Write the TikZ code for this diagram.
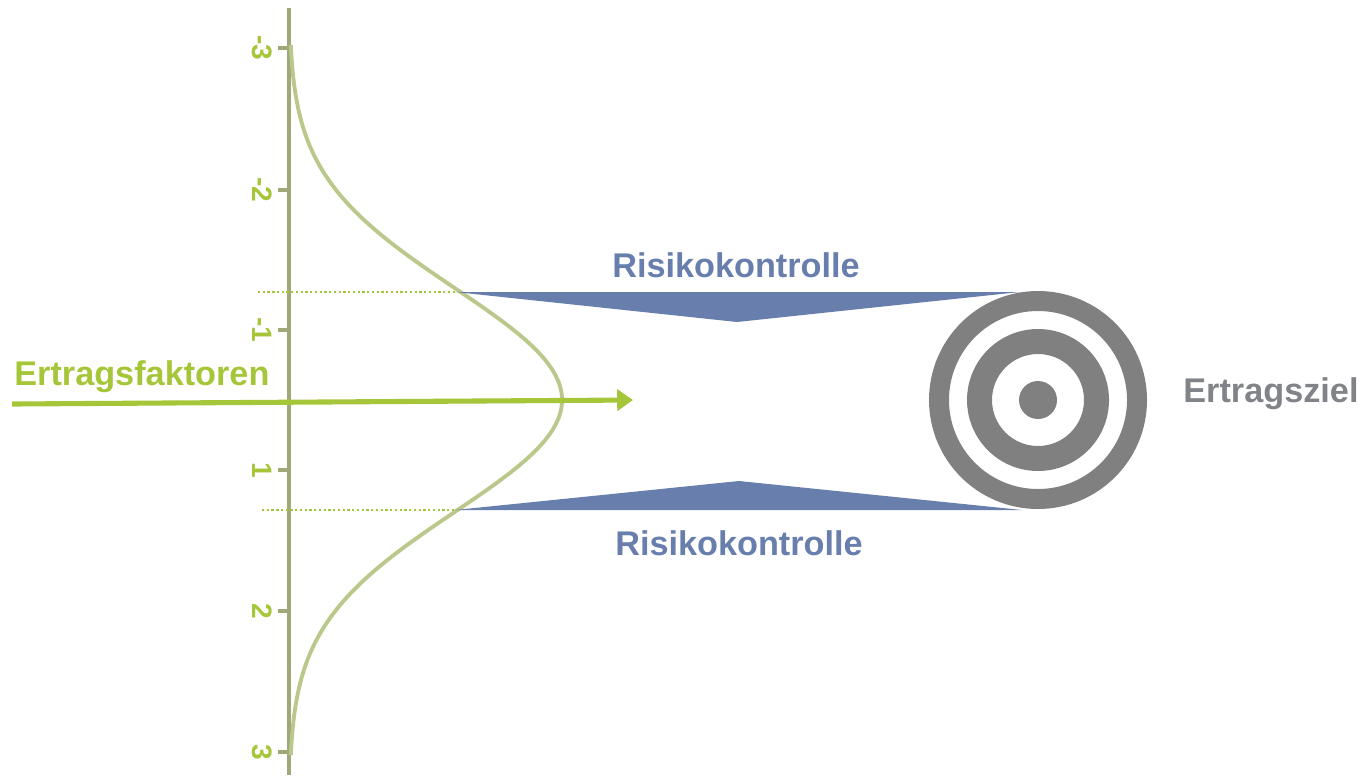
\documentclass[tikz,border=0pt]{standalone}
\usepackage{fontspec}
\setmainfont{Liberation Sans}
\usetikzlibrary{positioning,arrows.meta}
\definecolor{ertrag}{RGB}{166,198,58}
\definecolor{axisol}{RGB}{160,168,122}
\definecolor{curveol}{RGB}{186,200,140}
\definecolor{riskblue}{RGB}{104,127,174}
\definecolor{zielgray}{RGB}{128,128,128}
\definecolor{zieltext}{RGB}{128,131,136}
\tikzset{
  big/.style={font=\bfseries\fontsize{19.5}{23}\selectfont, inner sep=0pt},
  ticklbl/.style={font=\bfseries\fontsize{16}{18}\selectfont, text=ertrag, inner sep=0pt, rotate=-90},
  ax/.style={draw=axisol, line width=1.8pt},
  bell/.style={draw=curveol, line width=2.2pt},
  guide/.style={draw=ertrag, line width=1.3pt, dash pattern=on 1.3pt off 1.4pt},
  flow/.style={draw=ertrag, line width=2.9pt, -{Triangle[length=9pt,width=12pt]}},
  wedge/.style={fill=riskblue},
}
\begin{document}
\begin{tikzpicture}[x=0.02cm, y=-0.02cm]
\useasboundingbox (0,0) rectangle (1361,775);
% axis with ticks
\coordinate (axtop) at (289,8);
\coordinate (axbot) at (289,775);
\draw[ax] (axtop) -- (axbot);
\foreach \v/\ypos in {-3/48,-2/190,-1/330,1/470,2/611,3/752} {
  \coordinate (tk\ypos) at (278,\ypos);
  \draw[ax] (tk\ypos) -- (289,\ypos);
  \node[ticklbl] (t\ypos) at (262,\ypos) {\v};
}
% bell curve
\draw[bell] plot[domain=-355:355, samples=121, smooth] ({289+273*exp(-((\x/112)^2)/2)}, {400+\x});
% risk wedges
\coordinate (tl) at (455,292); \coordinate (tr) at (1020,292); \coordinate (tm) at (737,322);
\coordinate (bl) at (455,510); \coordinate (br) at (1022,510); \coordinate (bm) at (739,481);
\coordinate (dtl) at (258,292); \coordinate (dbl) at (262,510);
\draw[guide] (dtl) -- (tl);
\draw[guide] (dbl) -- (bl);
\fill[wedge] (tl) -- (tr) -- (tm) -- cycle;
\fill[wedge] (bl) -- (br) -- (bm) -- cycle;
\node[big, text=riskblue] (rktop) at (736,265) {Risikokontrolle};
\node[big, text=riskblue] (rkbot) at (739,543) {Risikokontrolle};
% target
\coordinate (tgt) at (1038,400);
\fill[zielgray, even odd rule] (tgt) circle (109) circle (89) circle (71) circle (46) circle (19);
\node[big, text=zieltext, anchor=west] (ziel) at (1183,394) {Ertragsziel};
% yield factors
\coordinate (fstart) at (12,404);
\coordinate (fend) at (633,400);
\draw[flow] (fstart) -- (fend);
\node[big, text=ertrag, anchor=west] (faktor) at (14,377) {Ertragsfaktoren};
\end{tikzpicture}
\end{document}
